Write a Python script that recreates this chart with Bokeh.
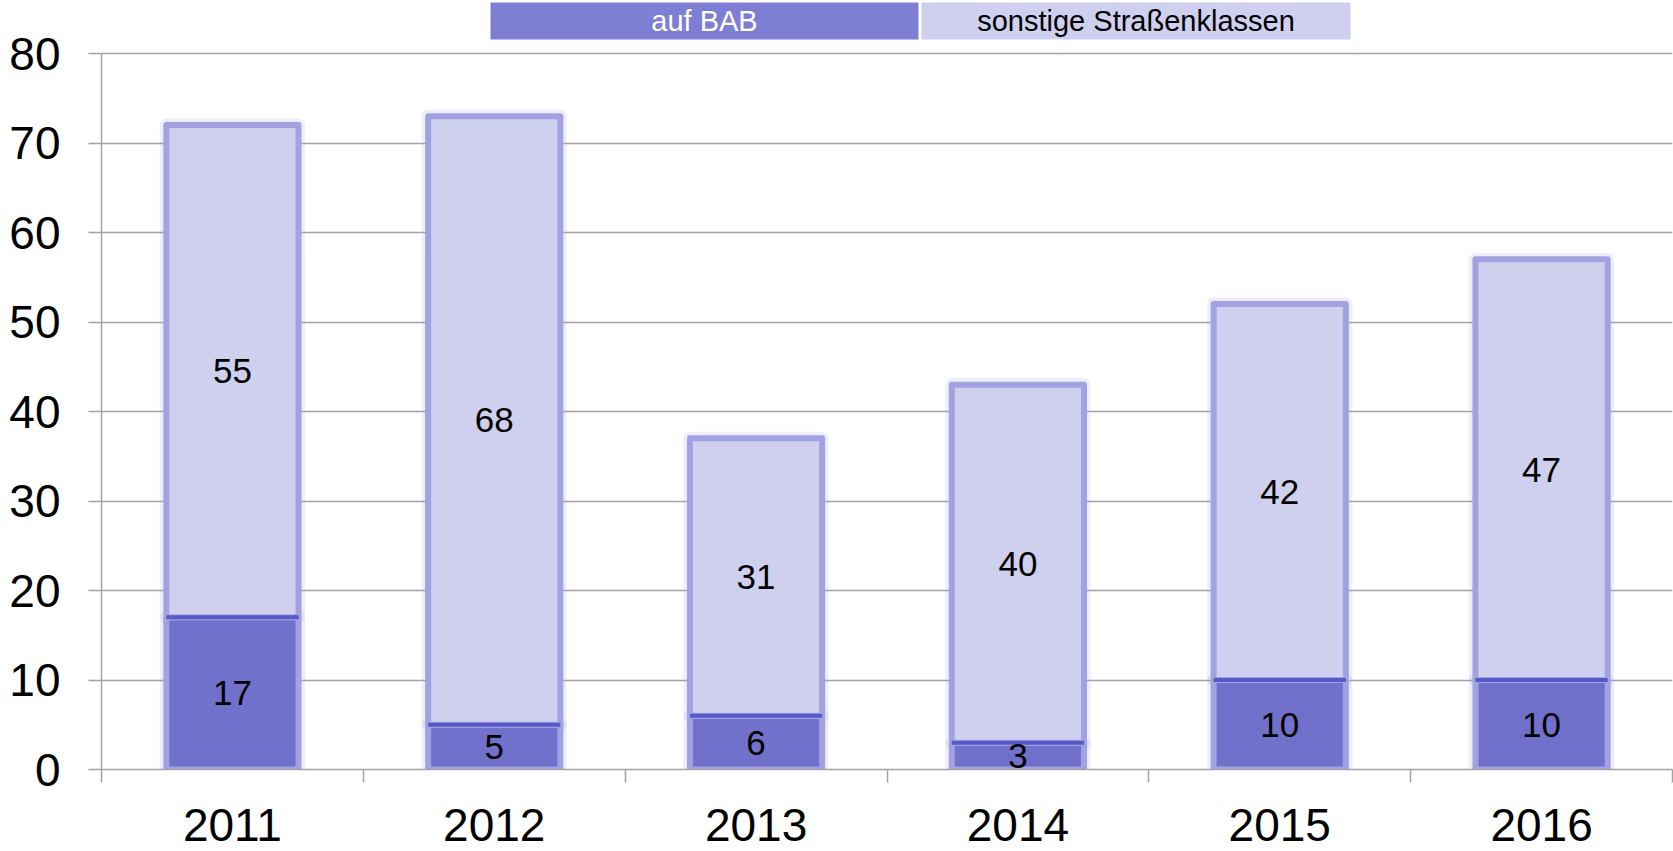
from bokeh.plotting import figure
from bokeh.models import ColumnDataSource, Range1d, FixedTicker, Label, BoxAnnotation
from bokeh.core.properties import value
from bokeh.embed import file_html
from bokeh.resources import INLINE

years = ["2011", "2012", "2013", "2014", "2015", "2016"]
bab = [17, 5, 6, 3, 10, 10]
sonstige = [55, 68, 31, 40, 42, 47]
series_names = ["auf BAB", "sonstige Straßenklassen"]
y_ticks = [0, 10, 20, 30, 40, 50, 60, 70, 80]
y_max = 80

FONT = "Liberation Sans"
DARK = "#7171CC"
LIGHT = "#CED0EE"
GLOW = "#A2A2E2"
LEG_DARK = "#7E7ED5"
LEG_LIGHT = "#CFD0EF"

xs = [i + 0.5 for i in range(len(years))]
tops = [b + s for b, s in zip(bab, sonstige)]
src = ColumnDataSource(dict(
    x=xs, bab=bab, son=sonstige, top=tops,
    bab_mid=[b / 2 for b in bab],
    son_mid=[b + s / 2 for b, s in zip(bab, sonstige)],
    bab_txt=[str(v) for v in bab],
    son_txt=[str(v) for v in sonstige],
))

# frame spans full height so the legend strip fits inside it; axis bounded to 0..80
W, H = 1673, 851
frame_left, frame_bottom, y80_px = 101, 769, 53
px_per_unit = (frame_bottom - y80_px) / y_max
y_top = y_max + y80_px / px_per_unit

p = figure(width=W, height=H, output_backend="svg", toolbar_location=None,
           x_range=Range1d(0, len(years)), y_range=Range1d(0, y_top),
           min_border_left=frame_left, min_border_top=0,
           min_border_bottom=H - frame_bottom, min_border_right=1)
p.outline_line_color = None
p.background_fill_color = "white"
p.border_fill_color = "white"

# axes
p.xgrid.grid_line_color = None
p.ygrid.ticker = FixedTicker(ticks=y_ticks)
p.ygrid.grid_line_color = "#A3A3A3"
p.ygrid.grid_line_width = 1.5
p.yaxis.ticker = FixedTicker(ticks=y_ticks)
p.yaxis.bounds = (0, y_max)
p.yaxis.major_tick_out = 13
p.yaxis.major_tick_in = 0
p.yaxis.minor_tick_line_color = None
p.yaxis.major_tick_line_color = "#A3A3A3"
p.yaxis.major_tick_line_width = 1.5
p.yaxis.axis_line_color = "#A3A3A3"
p.yaxis.axis_line_width = 1.5
p.yaxis.major_label_text_font = FONT
p.yaxis.major_label_text_font_size = "46px"
p.yaxis.major_label_text_color = "black"
p.yaxis.major_label_standoff = 28

p.xaxis.ticker = FixedTicker(ticks=xs, minor_ticks=list(range(len(years) + 1)))
p.xaxis.major_label_overrides = {x: y for x, y in zip(xs, years)}
p.xaxis.major_tick_line_color = None
p.xaxis.minor_tick_out = 13
p.xaxis.minor_tick_in = 0
p.xaxis.minor_tick_line_color = "#A3A3A3"
p.xaxis.minor_tick_line_width = 1.5
p.xaxis.axis_line_color = "#A3A3A3"
p.xaxis.axis_line_width = 1.5
p.xaxis.major_label_text_font = FONT
p.xaxis.major_label_text_font_size = "46px"
p.xaxis.major_label_text_color = "black"
p.xaxis.major_label_standoff = 26

# soft halo
for bottom, top in ((0, "bab"), ("bab", "top")):
    p.vbar(x="x", bottom=bottom, top=top, width=0.505, source=src, fill_color=None,
           line_color=GLOW, line_width=13, line_alpha=0.18, line_join="round")
# bars
p.vbar(x="x", bottom=0, top="bab", width=0.505, source=src, fill_color=DARK,
       line_color=GLOW, line_width=6, line_join="round")
p.vbar(x="x", bottom="bab", top="top", width=0.505, source=src, fill_color=LIGHT,
       line_color=GLOW, line_width=6, line_join="round")
# darker edge on top of the BAB segment
p.vbar(x="x", bottom="bab", top="bab", width=0.505, source=src, fill_color=None,
       line_color="#5858C8", line_width=4)

p.text(x="x", y="bab_mid", text="bab_txt", source=src, text_align="center",
       text_baseline="middle", text_font=value(FONT), text_font_size="35px",
       text_color="black")
p.text(x="x", y="son_mid", text="son_txt", source=src, text_align="center",
       text_baseline="middle", text_font=value(FONT), text_font_size="35px",
       text_color="black")

# legend strip at the top (screen units, relative to the frame's bottom-left)
leg_bottom, leg_top = frame_bottom - 39, frame_bottom - 2
for (l, r), color, name, tcolor in (((490, 918), LEG_DARK, series_names[0], "white"),
                                      ((921, 1350), LEG_LIGHT, series_names[1], "black")):
    p.add_layout(BoxAnnotation(left=l - frame_left, right=r - frame_left,
                               bottom=leg_bottom, top=leg_top,
                               left_units="screen", right_units="screen",
                               bottom_units="screen", top_units="screen",
                               fill_color=color, fill_alpha=1, line_color=None,
                               level="overlay"))
    p.add_layout(Label(x=(l + r) / 2 - frame_left, y=(leg_bottom + leg_top) / 2,
                       x_units="screen", y_units="screen", text=name,
                       text_align="center", text_baseline="middle", text_font=FONT,
                       text_font_size="29px", text_color=tcolor, level="overlay"))

open("out.html", "w").write(file_html(p, INLINE))
